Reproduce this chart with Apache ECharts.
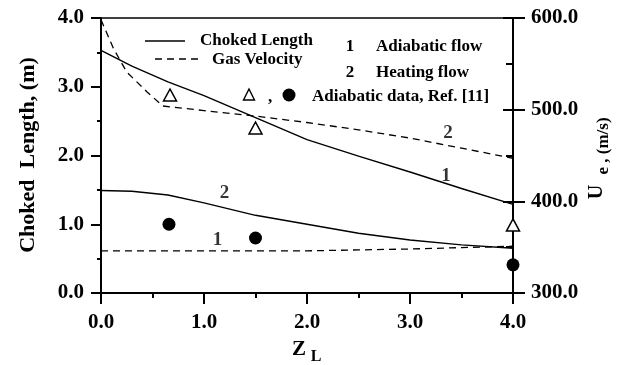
<!DOCTYPE html>
<html><head><meta charset="utf-8">
<script src="https://cdn.jsdelivr.net/npm/echarts@6/dist/echarts.min.js"></script>
<style>html,body{margin:0;padding:0;background:#fff}#c{width:629px;height:365px}</style>
</head><body><div id="c"></div>
<script>
// ---- data ----
const zL = [0, 0.3, 0.65, 1.0, 1.5, 2.0, 2.5, 3.0, 3.5, 4.0];
const lenAdiabatic = [3.53, 3.30, 3.07, 2.87, 2.55, 2.23, 1.99, 1.76, 1.52, 1.29];
const lenHeating = [1.49, 1.48, 1.425, 1.31, 1.13, 1.00, 0.87, 0.77, 0.70, 0.65];
const velAdiabatic = [346, 346, 346, 346, 346, 346, 347, 348, 349.5, 351];
const zV = [0, 0.12, 0.25, 0.45, 0.6, 1.0, 1.5, 2.0, 2.5, 3.0, 3.5, 4.0];
const velHeating = [598, 567, 541, 519, 504, 499, 493, 486, 478, 469, 458, 447];
const triZ = [0.67, 1.5, 4.0];
const triLen = [2.88, 2.40, 0.99];
const dotZ = [0.66, 1.5, 4.0];
const dotLen = [1.0, 0.8, 0.41];
const labelZ = [1.2, 1.13, 3.37, 3.35];
const labelY = [1.45, 0.77, 2.32, 1.70];
const labelText = ['2', '1', '2', '1'];
const xTicks = ['0.0', '1.0', '2.0', '3.0', '4.0'];

const F = 'Liberation Serif, Times New Roman, serif';
const pair = (xs, ys) => xs.map((x, i) => [x, ys[i]]);
const chart = echarts.init(document.getElementById('c'), null, {renderer: 'canvas'});
const lbl = (margin, fmt) => ({margin: margin, formatter: fmt, color: '#000', fontFamily: F, fontWeight: 'bold', fontSize: 21});
const ls = () => ({color: '#000', width: 2});
const lineBase = () => ({symbol: 'none', smooth: false, silent: true});

chart.setOption({
  backgroundColor: '#fff',
  animation: false,
  grid: {left: 101, right: 116, top: 18, bottom: 72},
  xAxis: [{
    type: 'value', min: 0, max: 4, interval: 1,
    axisLine: {show: true, onZero: false, lineStyle: ls()},
    axisTick: {show: true, length: 11, lineStyle: ls()},
    minorTick: {show: true, splitNumber: 2, length: 5, lineStyle: ls()},
    splitLine: {show: false},
    axisLabel: lbl(19, v => xTicks[Math.round(v)])
  }, {
    type: 'value', min: 0, max: 4, position: 'top',
    axisLine: {show: true, onZero: false, lineStyle: {color: '#000', width: 1.5}},
    axisTick: {show: false}, minorTick: {show: false}, axisLabel: {show: false}, splitLine: {show: false}
  }],
  yAxis: [{
    type: 'value', min: 0, max: 4, interval: 1,
    axisLine: {show: true, onZero: false, lineStyle: ls()},
    axisTick: {show: true, length: 10, lineStyle: ls()},
    minorTick: {show: true, splitNumber: 2, length: 4, lineStyle: ls()},
    splitLine: {show: false},
    axisLabel: lbl(17, v => v.toFixed(1))
  }, {
    type: 'value', min: 300, max: 600, interval: 100, position: 'right',
    axisLine: {show: true, onZero: false, lineStyle: ls()},
    axisTick: {show: true, length: 12, lineStyle: ls()},
    minorTick: {show: false},
    splitLine: {show: false},
    axisLabel: lbl(18, v => v.toFixed(1))
  }, {
    type: 'value', min: 300, max: 600, interval: 100, position: 'right',
    axisLine: {show: false, onZero: false},
    axisTick: {show: true, inside: true, length: 10, lineStyle: ls()},
    minorTick: {show: true, splitNumber: 2, length: 7, lineStyle: ls()},
    splitLine: {show: false}, axisLabel: {show: false}
  }],
  series: [
    Object.assign({type: 'line', yAxisIndex: 0, data: pair(zL, lenAdiabatic),
      lineStyle: {color: '#000', width: 1.4}}, lineBase()),
    Object.assign({type: 'line', yAxisIndex: 0, data: pair(zL, lenHeating),
      lineStyle: {color: '#000', width: 1.4}}, lineBase()),
    Object.assign({type: 'line', yAxisIndex: 1, data: pair(zL, velAdiabatic),
      lineStyle: {color: '#000', width: 1.3, type: [7, 5]}}, lineBase()),
    Object.assign({type: 'line', yAxisIndex: 1, data: pair(zV, velHeating),
      lineStyle: {color: '#000', width: 1.3, type: [7, 5]}}, lineBase()),
    {type: 'scatter', yAxisIndex: 0, clip: false, data: pair(triZ, triLen),
      symbol: 'triangle', symbolSize: [13, 12],
      itemStyle: {color: '#fff', borderColor: '#000', borderWidth: 1.5, opacity: 1}},
    {type: 'scatter', yAxisIndex: 0, clip: false, data: pair(dotZ, dotLen),
      symbol: 'circle', symbolSize: 13, itemStyle: {color: '#000', opacity: 1}},
    {type: 'scatter', yAxisIndex: 0, clip: false, symbolSize: 0,
      data: labelZ.map((z, i) => ({value: [z, labelY[i]], label: {formatter: labelText[i]}})),
      label: {show: true, position: 'inside', color: '#000', fontFamily: F, fontWeight: 'bold', fontSize: 19}}
  ],
  graphic: [
    // legend
    {type: 'line', shape: {x1: 145, y1: 41, x2: 185, y2: 41}, style: {stroke: '#000', lineWidth: 1.6}},
    {type: 'text', x: 200, y: 41, style: {text: 'Choked Length', font: 'bold 17px ' + F, fill: '#000', textVerticalAlign: 'middle'}},
    {type: 'line', shape: {x1: 155, y1: 59, x2: 200, y2: 59}, style: {stroke: '#000', lineWidth: 1.3, lineDash: [7, 5]}},
    {type: 'text', x: 212, y: 60, style: {text: 'Gas Velocity', font: 'bold 17px ' + F, fill: '#000', textVerticalAlign: 'middle'}},
    {type: 'text', x: 350, y: 47, style: {text: '1', font: 'bold 17px ' + F, fill: '#000', textAlign: 'center', textVerticalAlign: 'middle'}},
    {type: 'text', x: 376, y: 47, style: {text: 'Adiabatic flow', font: 'bold 17px ' + F, fill: '#000', textVerticalAlign: 'middle'}},
    {type: 'text', x: 350, y: 73, style: {text: '2', font: 'bold 17px ' + F, fill: '#000', textAlign: 'center', textVerticalAlign: 'middle'}},
    {type: 'text', x: 376, y: 73, style: {text: 'Heating flow', font: 'bold 17px ' + F, fill: '#000', textVerticalAlign: 'middle'}},
    {type: 'polygon', shape: {points: [[249, 89], [243.5, 100], [254.5, 100]]}, style: {fill: '#fff', stroke: '#000', lineWidth: 1.4}},
    {type: 'text', x: 270, y: 98, style: {text: ',', font: 'bold 17px ' + F, fill: '#000', textAlign: 'center', textVerticalAlign: 'middle'}},
    {type: 'circle', shape: {cx: 289, cy: 95, r: 6.5}, style: {fill: '#000'}},
    {type: 'text', x: 312, y: 97, style: {text: 'Adiabatic data, Ref. [11]', font: 'bold 17px ' + F, fill: '#000', textVerticalAlign: 'middle'}},
    // axis titles
    {type: 'text', x: 28, y: 155, rotation: Math.PI / 2, style: {text: 'Choked  Length, (m)', font: 'bold 22px ' + F, fill: '#000', textAlign: 'center', textVerticalAlign: 'middle'}},
    {type: 'text', x: 597, y: 192, rotation: Math.PI / 2, style: {text: 'U', font: 'bold 20px ' + F, fill: '#000', textAlign: 'center', textVerticalAlign: 'middle'}},
    {type: 'text', x: 604, y: 146, rotation: Math.PI / 2, style: {text: 'e , (m/s)', font: 'bold 17px ' + F, fill: '#000', textAlign: 'center', textVerticalAlign: 'middle'}},
    {type: 'text', x: 299, y: 350, style: {text: 'Z', font: 'bold 21px ' + F, fill: '#000', textAlign: 'center', textVerticalAlign: 'middle'}},
    {type: 'text', x: 316, y: 357, style: {text: 'L', font: 'bold 16px ' + F, fill: '#000', textAlign: 'center', textVerticalAlign: 'middle'}}
  ]
});
</script></body></html>
